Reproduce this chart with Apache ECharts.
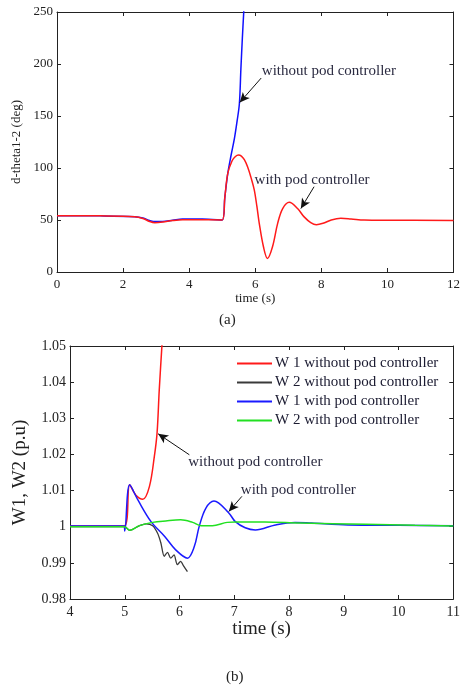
<!DOCTYPE html>
<html>
<head>
<meta charset="utf-8">
<script src="https://cdn.jsdelivr.net/npm/echarts@6/dist/echarts.min.js"></script>
<style>
  html, body { margin: 0; padding: 0; background: #fff; }
  #chart { width: 463px; height: 690px; }
</style>
</head>
<body>
<div id="chart"></div>
<script>
// (a) rotor angle difference d-theta1-2 (deg)
var angleWithTime = [0, 1.3, 2.35, 2.6, 2.8, 2.96, 3.2, 3.5, 3.8, 4.4, 5.0, 5.08, 5.17, 5.3, 5.4, 5.49, 5.58, 5.67, 5.77, 5.87, 5.97, 6.05, 6.12, 6.25, 6.37, 6.52, 6.68, 6.83, 7.03, 7.28, 7.48, 7.68, 7.85, 8.05, 8.3, 8.59, 8.9, 9.3, 10, 12];
var angleWithVal  = [54.2, 54.0, 53.2, 51.5, 48.6, 47.4, 48.0, 49.5, 50.3, 50.2, 50.0, 72, 95, 107, 111, 112.5, 111.5, 108, 101, 91, 79, 63, 47, 24, 13, 24, 47, 61, 67, 61, 53, 47.5, 45.5, 46.8, 50, 51.6, 51, 50, 49.8, 49.6];
var angleWithoutTime = [0, 1.3, 2.35, 2.6, 2.8, 2.92, 3.2, 3.5, 3.8, 4.4, 5.0, 5.08, 5.17, 5.27, 5.37, 5.45, 5.52, 5.565, 5.61, 5.655];
var angleWithoutVal  = [54.2, 54.0, 53.2, 52.0, 49.5, 48.6, 48.6, 49.8, 51.0, 51.0, 50.0, 72, 95, 112.5, 128.5, 145, 162, 195, 225, 252];

// (b) machine speeds W1, W2 (p.u)
var w1WithoutTime = [4, 4.99, 5.09, 5.2, 5.33, 5.45, 5.54, 5.59, 5.63, 5.68, 5.7];
var w1WithoutVal  = [1.0002, 1.0002, 1.0116, 1.0088, 1.0076, 1.0111, 1.0194, 1.0259, 1.0378, 1.0503, 1.055];
var w2WithoutTime = [4, 5.0, 5.09, 5.27, 5.39, 5.51, 5.6, 5.66, 5.72, 5.78, 5.84, 5.9, 5.96, 6.02, 6.08, 6.145];
var w2WithoutVal  = [1.0, 1.0, 0.999, 1.0003, 1.0008, 1.0003, 0.9982, 0.9955, 0.9918, 0.9929, 0.9913, 0.9922, 0.9895, 0.9904, 0.989, 0.9876];
var w1WithTime = [4, 4.99, 5.0, 5.09, 5.24, 5.48, 5.73, 5.93, 6.145, 6.27, 6.36, 6.48, 6.63, 6.9, 7.02, 7.2, 7.385, 7.75, 8.11, 8.41, 9.08, 10, 11];
var w1WithVal  = [1.0002, 1.0002, 0.9988, 1.0116, 1.0074, 1.0014, 0.9973, 0.9936, 0.9913, 0.9945, 1.0001, 1.0051, 1.0071, 1.0038, 1.0014, 0.9997, 0.9991, 1.0005, 1.0012, 1.001, 1.0005, 1.0004, 1.0003];
var w2WithTime = [4, 4.99, 5.09, 5.27, 5.51, 5.75, 6.02, 6.24, 6.39, 6.6, 6.87, 7.02, 7.56, 8.2, 9.4, 10.3, 11];
var w2WithVal  = [1.0, 1.0, 0.999, 1.0003, 1.0012, 1.0016, 1.0019, 1.0012, 1.0003, 1.0003, 1.0012, 1.0013, 1.0013, 1.001, 1.0007, 1.0004, 1.0002];

var legendNames = ['W 1 without pod controller', 'W 2 without pod controller', 'W 1 with pod controller', 'W 2 with pod controller'];

function pairs(xs, ys) {
  return xs.map(function (x, i) { return [x, ys[i]]; });
}

var serif = "'Liberation Serif', 'Times New Roman', serif";
var ink = '#222';

function frameAxis(base, opts) {
  var a = {
    axisLine: { show: true, onZero: false, lineStyle: { color: ink, width: 1 } },
    axisTick: { show: true, inside: true, length: 4, lineStyle: { color: ink } },
    splitLine: { show: false },
    axisLabel: { show: false }
  };
  for (var k in base) a[k] = base[k];
  for (var k2 in opts) a[k2] = opts[k2];
  return a;
}

function arrow(from, to) {
  return [{ coord: from }, { coord: to }];
}

function note(text, at, size) {
  return {
    coord: at,
    symbolSize: 0,
    label: {
      show: true, position: 'right', distance: 0, formatter: text,
      fontFamily: serif, fontSize: size, color: '#2a2a40'
    }
  };
}

function arrowStyle(lines) {
  return {
    silent: true,
    symbol: ['none', 'arrow'],
    symbolSize: [7, 10],
    lineStyle: { color: '#111', width: 1, type: 'solid' },
    label: { show: false },
    data: lines
  };
}

function curve(color, width) {
  return {
    type: 'line', showSymbol: false, smooth: 0.35,
    lineStyle: { color: color, width: width }, itemStyle: { color: color }
  };
}

function withProps(base, extra) {
  for (var k in extra) base[k] = extra[k];
  return base;
}

var fmtSpeed = function (v) { return String(+v.toFixed(2)); };

var topX = { gridIndex: 0, type: 'value', min: 0, max: 12, interval: 2 };
var topY = { gridIndex: 0, type: 'value', min: 0, max: 250, interval: 50 };
var botX = { gridIndex: 1, type: 'value', min: 4, max: 11, interval: 1 };
var botY = { gridIndex: 1, type: 'value', min: 0.98, max: 1.05, interval: 0.01 };

var option = {
  animation: false,
  backgroundColor: '#fff',
  grid: [
    { left: 57, right: 8, top: 12, height: 260 },
    { left: 70, right: 7, top: 346, height: 253 }
  ],
  legend: {
    data: legendNames,
    orient: 'vertical',
    left: 232,
    top: 351,
    itemWidth: 35,
    itemHeight: 2,
    itemGap: 4,
    icon: 'rect',
    textStyle: { fontFamily: serif, fontSize: 15, color: '#1a1a30', padding: [0, 0, 0, -2] }
  },
  xAxis: [
    frameAxis(topX, {
      position: 'bottom',
      axisLabel: { show: true, margin: 6, fontFamily: serif, fontSize: 13, color: ink },
      name: 'time (s)', nameLocation: 'middle', nameGap: 20,
      nameTextStyle: { fontFamily: serif, fontSize: 13, color: ink, verticalAlign: 'top' }
    }),
    frameAxis(topX, { position: 'top' }),
    frameAxis(botX, {
      position: 'bottom',
      axisLabel: { show: true, margin: 6, fontFamily: serif, fontSize: 14, color: ink },
      name: 'time (s)', nameLocation: 'middle', nameGap: 21,
      nameTextStyle: { fontFamily: serif, fontSize: 19, color: ink, verticalAlign: 'top' }
    }),
    frameAxis(botX, { position: 'top' })
  ],
  yAxis: [
    frameAxis(topY, {
      position: 'left',
      axisLabel: { show: true, margin: 4, fontFamily: serif, fontSize: 13, color: ink },
      name: 'd-theta1-2 (deg)', nameLocation: 'middle', nameGap: 33,
      nameTextStyle: { fontFamily: serif, fontSize: 13, color: ink }
    }),
    frameAxis(topY, { position: 'right' }),
    frameAxis(botY, {
      position: 'left',
      axisLabel: { show: true, margin: 4, fontFamily: serif, fontSize: 14, color: ink, formatter: fmtSpeed },
      name: 'W1, W2 (p.u)', nameLocation: 'middle', nameGap: 40,
      nameTextStyle: { fontFamily: serif, fontSize: 19, color: ink }
    }),
    frameAxis(botY, { position: 'right', axisLabel: { show: false, formatter: fmtSpeed } })
  ],
  series: [
    withProps(curve('#1010ff', 1.5), {
      name: 'd-theta without pod', xAxisIndex: 0, yAxisIndex: 0,
      data: pairs(angleWithoutTime, angleWithoutVal)
    }),
    withProps(curve('#ff1a1a', 1.5), {
      name: 'd-theta with pod', xAxisIndex: 0, yAxisIndex: 0,
      data: pairs(angleWithTime, angleWithVal),
      markLine: arrowStyle([
        arrow([6.18, 186.5], [5.53, 163]),
        arrow([7.78, 82], [7.38, 61])
      ]),
      markPoint: {
        silent: true,
        data: [
          note('without pod controller', [6.2, 193], 15),
          note('with pod controller', [5.98, 88.5], 15)
        ]
      }
    }),
    withProps(curve('#ff1a1a', 1.5), {
      name: legendNames[0], xAxisIndex: 2, yAxisIndex: 2,
      data: pairs(w1WithoutTime, w1WithoutVal),
      markLine: arrowStyle([
        arrow([6.18, 1.0199], [5.61, 1.0257]),
        arrow([7.14, 1.0084], [6.9, 1.0042])
      ]),
      markPoint: {
        silent: true,
        data: [
          note('without pod controller', [6.16, 1.0179], 15),
          note('with pod controller', [7.12, 1.0101], 15)
        ]
      }
    }),
    withProps(curve('#3a3a3a', 1.3), {
      name: legendNames[1], xAxisIndex: 2, yAxisIndex: 2,
      data: pairs(w2WithoutTime, w2WithoutVal), smooth: 0.25
    }),
    withProps(curve('#1a1aff', 1.5), {
      name: legendNames[2], xAxisIndex: 2, yAxisIndex: 2,
      data: pairs(w1WithTime, w1WithVal)
    }),
    withProps(curve('#22e022', 1.5), {
      name: legendNames[3], xAxisIndex: 2, yAxisIndex: 2,
      data: pairs(w2WithTime, w2WithVal)
    })
  ],
  graphic: [
    { type: 'text', left: 219, top: 313, style: { text: '(a)', fontFamily: serif, fontSize: 15, fill: ink } },
    { type: 'text', left: 226, top: 670, style: { text: '(b)', fontFamily: serif, fontSize: 15, fill: ink } }
  ]
};

var chart = echarts.init(document.getElementById('chart'), null, { renderer: 'canvas' });
chart.setOption(option);
</script>
</body>
</html>
